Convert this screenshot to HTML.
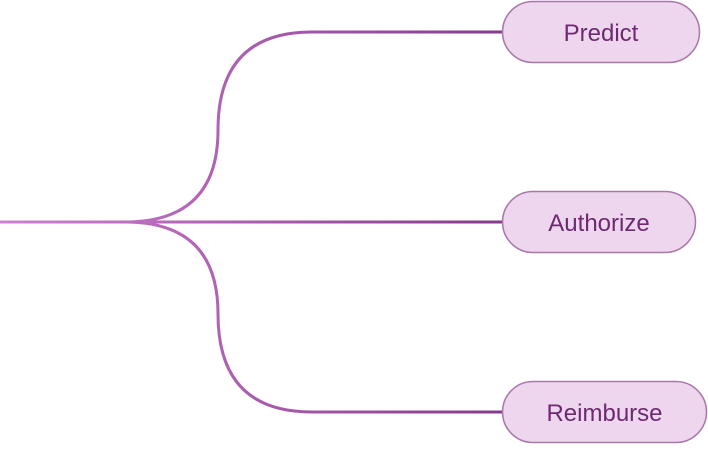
<!DOCTYPE html>
<html><head><style>
body{margin:0;width:708px;height:444px;background:#fff;overflow:hidden;font-family:"Liberation Sans",sans-serif}
</style></head><body>
<svg width="708" height="444" viewBox="0 0 708 444">
<defs>
<linearGradient id="g" x1="0" y1="0" x2="502" y2="0" gradientUnits="userSpaceOnUse">
<stop offset="0" stop-color="#cf80d2"/><stop offset="1" stop-color="#863a8a"/>
</linearGradient>
</defs>
<g fill="none" stroke="url(#g)" stroke-width="3">
<path d="M0,222 L502,222"/>
<path d="M125,222 Q218,222 218,130 Q218,32 312,32 L502,32"/>
<path d="M125,222 Q218,222 218,314 Q218,412 312,412 L502,412"/>
</g>
<g fill="#edd6ee" stroke="#a878a8" stroke-width="1.5">
<rect x="502.5" y="1.5" width="197" height="61" rx="30.5"/>
<rect x="502.5" y="191.5" width="193" height="61" rx="30.5"/>
<rect x="502.5" y="381.5" width="204" height="61" rx="30.5"/>
</g>
<g fill="#6e2a70" font-size="24" text-anchor="middle" font-family="Liberation Sans, sans-serif">
<text x="601" y="41">Predict</text>
<text x="599" y="231">Authorize</text>
<text x="604.5" y="421">Reimburse</text>
</g>
</svg>
</body></html>
